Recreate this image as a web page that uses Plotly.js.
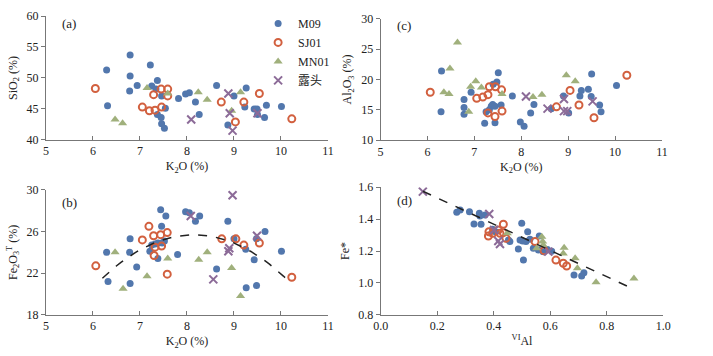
<!DOCTYPE html>
<html>
<head>
<meta charset="utf-8">
<script src="https://cdn.plot.ly/plotly-3.0.1.min.js"></script>
<style>
  html, body { margin: 0; padding: 0; background: #fff; }
  #plot { width: 713px; height: 356px; }
</style>
</head>
<body>
<div id="plot"></div>
<script>
// series names and colours
const names = ["M09", "SJ01", "MN01", "露头"];

// (a) SiO2 vs K2O
const aM09x = [6.29, 6.31, 6.79, 6.79, 6.78, 6.94, 7.22, 7.25, 7.37, 7.34, 7.46, 7.37, 7.45, 7.46, 7.52, 7.54, 7.82, 7.97, 8.05, 8.18, 8.26, 8.63, 8.87, 9.00, 9.26, 9.23, 9.43, 9.49, 9.50, 9.65, 9.69, 10.01];
const aM09y = [51.3, 45.5, 53.7, 50.3, 47.9, 48.8, 52.1, 48.7, 49.6, 48.2, 47.1, 44.1, 43.6, 42.6, 41.9, 45.1, 46.7, 47.4, 47.6, 46.1, 44.1, 48.8, 42.4, 47.1, 48.4, 45.3, 45.0, 45.0, 44.1, 43.6, 45.6, 45.4];
const aSJ01x = [6.05, 7.05, 7.20, 7.32, 7.29, 7.45, 7.59, 7.59, 7.46, 8.73, 9.03, 9.21, 9.54, 10.23];
const aSJ01y = [48.3, 45.3, 44.7, 44.8, 47.3, 48.2, 48.2, 47.1, 45.3, 46.1, 42.9, 46.1, 47.5, 43.4];
const aMN01x = [6.47, 6.63, 7.15, 7.59, 8.24, 8.43, 8.95, 9.14];
const aMN01y = [43.3, 42.7, 48.4, 47.5, 47.7, 46.5, 44.7, 47.7];
const aLTx = [8.09, 8.88, 8.91, 8.97, 9.50];
const aLTy = [43.3, 47.5, 44.3, 41.5, 44.3];

// (c) Al2O3 vs K2O
const cM09x = [6.30, 6.29, 6.78, 6.78, 6.78, 6.93, 7.22, 7.25, 7.32, 7.36, 7.39, 7.40, 7.48, 7.51, 7.44, 7.44, 7.57, 7.81, 7.98, 8.06, 8.20, 8.27, 8.64, 8.90, 9.01, 9.28, 9.25, 9.43, 9.49, 9.50, 9.67, 9.70, 10.03];
const cM09y = [21.4, 14.7, 16.7, 15.4, 14.3, 17.9, 12.8, 14.7, 15.0, 15.6, 15.9, 19.2, 19.6, 21.1, 15.6, 12.9, 15.8, 17.3, 13.0, 12.3, 14.5, 15.9, 15.2, 17.3, 14.5, 18.2, 17.3, 18.4, 17.2, 20.9, 15.8, 14.7, 19.0];
const cSJ01x = [6.06, 7.05, 7.18, 7.29, 7.32, 7.29, 7.45, 7.58, 7.59, 7.44, 8.75, 9.04, 9.23, 9.55, 10.25];
const cSJ01y = [17.9, 16.9, 17.1, 17.5, 18.8, 14.5, 18.8, 18.3, 14.8, 13.9, 15.5, 18.2, 15.8, 13.7, 20.7];
const cMN01x = [6.64, 6.48, 6.35, 6.46, 7.03, 6.92, 7.15, 6.88, 7.59, 8.25, 8.44, 8.96, 9.15];
const cMN01y = [26.1, 21.8, 17.9, 17.6, 19.7, 18.8, 18.7, 14.7, 17.6, 17.1, 17.5, 20.7, 19.7];
const cLTx = [8.10, 8.56, 8.91, 8.91, 8.98, 9.52];
const cLTy = [17.2, 15.2, 16.8, 14.8, 14.8, 16.4];

// (b) Fe2O3T vs K2O
const bM09x = [6.29, 6.32, 6.79, 6.78, 6.79, 6.93, 7.21, 7.25, 7.32, 7.38, 7.44, 7.46, 7.55, 7.52, 7.38, 7.47, 7.80, 7.97, 8.05, 8.18, 8.27, 8.63, 8.87, 9.00, 9.25, 9.26, 9.43, 9.48, 9.48, 9.66, 10.01];
const bM09y = [24.0, 21.2, 25.3, 24.0, 21.0, 22.6, 24.1, 24.7, 24.8, 24.9, 28.1, 26.5, 27.5, 25.1, 23.4, 24.9, 23.8, 27.9, 27.8, 27.0, 27.5, 22.4, 27.0, 25.3, 24.3, 20.6, 23.3, 20.8, 25.3, 26.0, 24.1];
const bSJ01x = [6.06, 7.05, 7.19, 7.29, 7.30, 7.32, 7.44, 7.46, 7.58, 7.58, 8.74, 9.04, 9.21, 9.54, 10.23];
const bSJ01y = [22.7, 25.2, 26.5, 25.6, 23.7, 24.5, 25.7, 24.6, 25.9, 21.9, 25.3, 25.3, 24.7, 24.9, 21.6];
const bMN01x = [6.47, 6.64, 7.15, 7.59, 8.25, 8.43, 8.95, 9.14];
const bMN01y = [24.0, 20.5, 21.7, 23.4, 23.3, 24.0, 22.5, 19.8];
const bLTx = [8.08, 8.56, 8.88, 8.90, 8.97, 9.49];
const bLTy = [27.5, 21.4, 24.1, 24.4, 29.5, 25.6];
// quadratic trend: c0 + c1*x + c2*x^2
const bFit = [-47.37, 17.93, -1.1];
const bFitRange = [6.2, 10.15];

// (d) Fe* vs VIAl
const dM09x = [0.269, 0.281, 0.314, 0.349, 0.351, 0.369, 0.330, 0.355, 0.396, 0.406, 0.499, 0.520, 0.452, 0.457, 0.493, 0.502, 0.514, 0.528, 0.487, 0.505, 0.540, 0.558, 0.561, 0.575, 0.590, 0.605, 0.684, 0.711, 0.719];
const dM09y = [1.443, 1.458, 1.447, 1.437, 1.420, 1.426, 1.370, 1.368, 1.336, 1.321, 1.374, 1.321, 1.269, 1.259, 1.269, 1.263, 1.259, 1.273, 1.213, 1.143, 1.217, 1.206, 1.294, 1.196, 1.210, 1.198, 1.049, 1.043, 1.064];
const dSJ01x = [0.434, 0.383, 0.381, 0.396, 0.416, 0.422, 0.434, 0.443, 0.546, 0.578, 0.620, 0.646, 0.658];
const dSJ01y = [1.368, 1.321, 1.294, 1.311, 1.332, 1.311, 1.315, 1.280, 1.259, 1.202, 1.143, 1.123, 1.106];
const dMN01x = [0.448, 0.570, 0.573, 0.575, 0.552, 0.649, 0.646, 0.688, 0.696, 0.762, 0.896];
const dMN01y = [1.311, 1.290, 1.259, 1.238, 1.217, 1.221, 1.185, 1.154, 1.091, 1.003, 1.028];
const dLTx = [0.149, 0.384, 0.401, 0.416, 0.422, 0.593];
const dLTy = [1.573, 1.432, 1.332, 1.263, 1.244, 1.196];
// linear trend: c0 + c1*x
const dFit = [1.698, -0.824];
const dFitRange = [0.149, 0.886];

const serif = "Liberation Serif, Times New Roman, Noto Sans CJK SC, serif";

// marker styles per series
const markers = [
  { symbol: "circle", size: 7, color: "#5277ad" },
  { symbol: "circle-open", size: 7, color: "#d2603f", line: { width: 2, color: "#d2603f" } },
  { symbol: "triangle-up", size: 8, color: "#a0b07c" },
  { symbol: "x-thin-open", size: 8, color: "#8c6b98", line: { width: 2, color: "#8c6b98" } },
];

function scatterSet(xs, ys, xa, ya, legend) {
  return xs.map((x, i) => ({
    x: x,
    y: ys[i],
    xaxis: xa,
    yaxis: ya,
    type: "scatter",
    mode: "markers",
    name: names[i],
    showlegend: legend,
    marker: markers[i],
    hoverinfo: "x+y",
  }));
}

function curve(coefs, range, xa, ya) {
  let xs = [];
  let ys = [];
  let n = 40;
  for (let i = 0; i <= n; i++) {
    let x = range[0] + (range[1] - range[0]) * i / n;
    let y = 0;
    coefs.forEach((c, p) => { y += c * Math.pow(x, p); });
    xs.push(x);
    ys.push(y);
  }
  return {
    x: xs, y: ys, xaxis: xa, yaxis: ya, type: "scatter", mode: "lines",
    showlegend: false, hoverinfo: "skip",
    line: { color: "#222", width: 1.5, dash: "dash" },
  };
}

let data = [];
data = data.concat(scatterSet([aM09x, aSJ01x, aMN01x, aLTx], [aM09y, aSJ01y, aMN01y, aLTy], "x", "y", true));
data = data.concat(scatterSet([cM09x, cSJ01x, cMN01x, cLTx], [cM09y, cSJ01y, cMN01y, cLTy], "x2", "y2", false));
data = data.concat(scatterSet([bM09x, bSJ01x, bMN01x, bLTx], [bM09y, bSJ01y, bMN01y, bLTy], "x3", "y3", false));
data.push(curve(bFit, bFitRange, "x3", "y3"));
data = data.concat(scatterSet([dM09x, dSJ01x, dMN01x, dLTx], [dM09y, dSJ01y, dMN01y, dLTy], "x4", "y4", false));
data.push(curve(dFit, dFitRange, "x4", "y4"));

function xAxis(domain, range, dtick, title, anchor, fmt) {
  return {
    domain: domain, range: range, dtick: dtick, tick0: range[0], anchor: anchor,
    showgrid: false, zeroline: false, showline: true, linecolor: "#777", linewidth: 1,
    ticks: "inside", ticklen: 4, tickcolor: "#777", tickformat: fmt || "",
    tickfont: { family: serif, size: 12, color: "#222" },
    title: { text: title, font: { family: serif, size: 12, color: "#222" }, standoff: 4 },
  };
}

function yAxis(domain, range, dtick, title, anchor, fmt) {
  return {
    domain: domain, range: range, dtick: dtick, tick0: range[0], anchor: anchor,
    showgrid: false, zeroline: false, showline: true, linecolor: "#777", linewidth: 1,
    ticks: "outside", ticklen: 4, tickcolor: "#777", tickformat: fmt || "",
    tickfont: { family: serif, size: 12, color: "#222" },
    title: { text: title, font: { family: serif, size: 12, color: "#222" }, standoff: 6 },
  };
}

const k2o = "K<sub>2</sub>O (%)";

let layout = {
  width: 713,
  height: 356,
  margin: { l: 0, r: 0, t: 0, b: 0 },
  paper_bgcolor: "#fff",
  plot_bgcolor: "#fff",
  font: { family: serif, size: 12, color: "#222" },
  xaxis: xAxis([0.0645, 0.460], [5, 11], 1, k2o, "y"),
  yaxis: yAxis([0.607, 0.955], [40, 60], 5, "SiO<sub>2</sub> (%)", "x"),
  xaxis2: xAxis([0.5337, 0.9285], [5, 11], 1, k2o, "y2"),
  yaxis2: yAxis([0.606, 0.9475], [10, 30], 5, "Al<sub>2</sub>O<sub>3</sub> (%)", "x2"),
  xaxis3: xAxis([0.0645, 0.460], [5, 11], 1, k2o, "y3"),
  yaxis3: yAxis([0.116, 0.4663], [18, 30], 4, "Fe<sub>2</sub>O<sub>3</sub><sup>T</sup> (%)", "x3"),
  xaxis4: xAxis([0.534, 0.9303], [0, 1], 0.2, "<sup>VI</sup>Al", "y4", ".1f"),
  yaxis4: yAxis([0.116, 0.4739], [0.8, 1.6], 0.2, "Fe*", "x4", ".1f"),
  legend: {
    x: 0.362, y: 0.975, xanchor: "left", yanchor: "top",
    bgcolor: "rgba(0,0,0,0)",
    font: { family: serif, size: 12, color: "#222" },
    itemwidth: 30,
    tracegroupgap: 0,
  },
  annotations: [
    ["(a)", "x domain", "y domain", 0.94],
    ["(c)", "x2 domain", "y2 domain", 0.94],
    ["(b)", "x3 domain", "y3 domain", 0.9],
    ["(d)", "x4 domain", "y4 domain", 0.9],
  ].map((a) => ({
    text: a[0], xref: a[1], yref: a[2], x: 0.05, y: a[3],
    xanchor: "left", yanchor: "middle", showarrow: false,
    font: { family: serif, size: 13, color: "#222" },
  })),
};

Plotly.newPlot("plot", data, layout, { staticPlot: true });
</script>
</body>
</html>
